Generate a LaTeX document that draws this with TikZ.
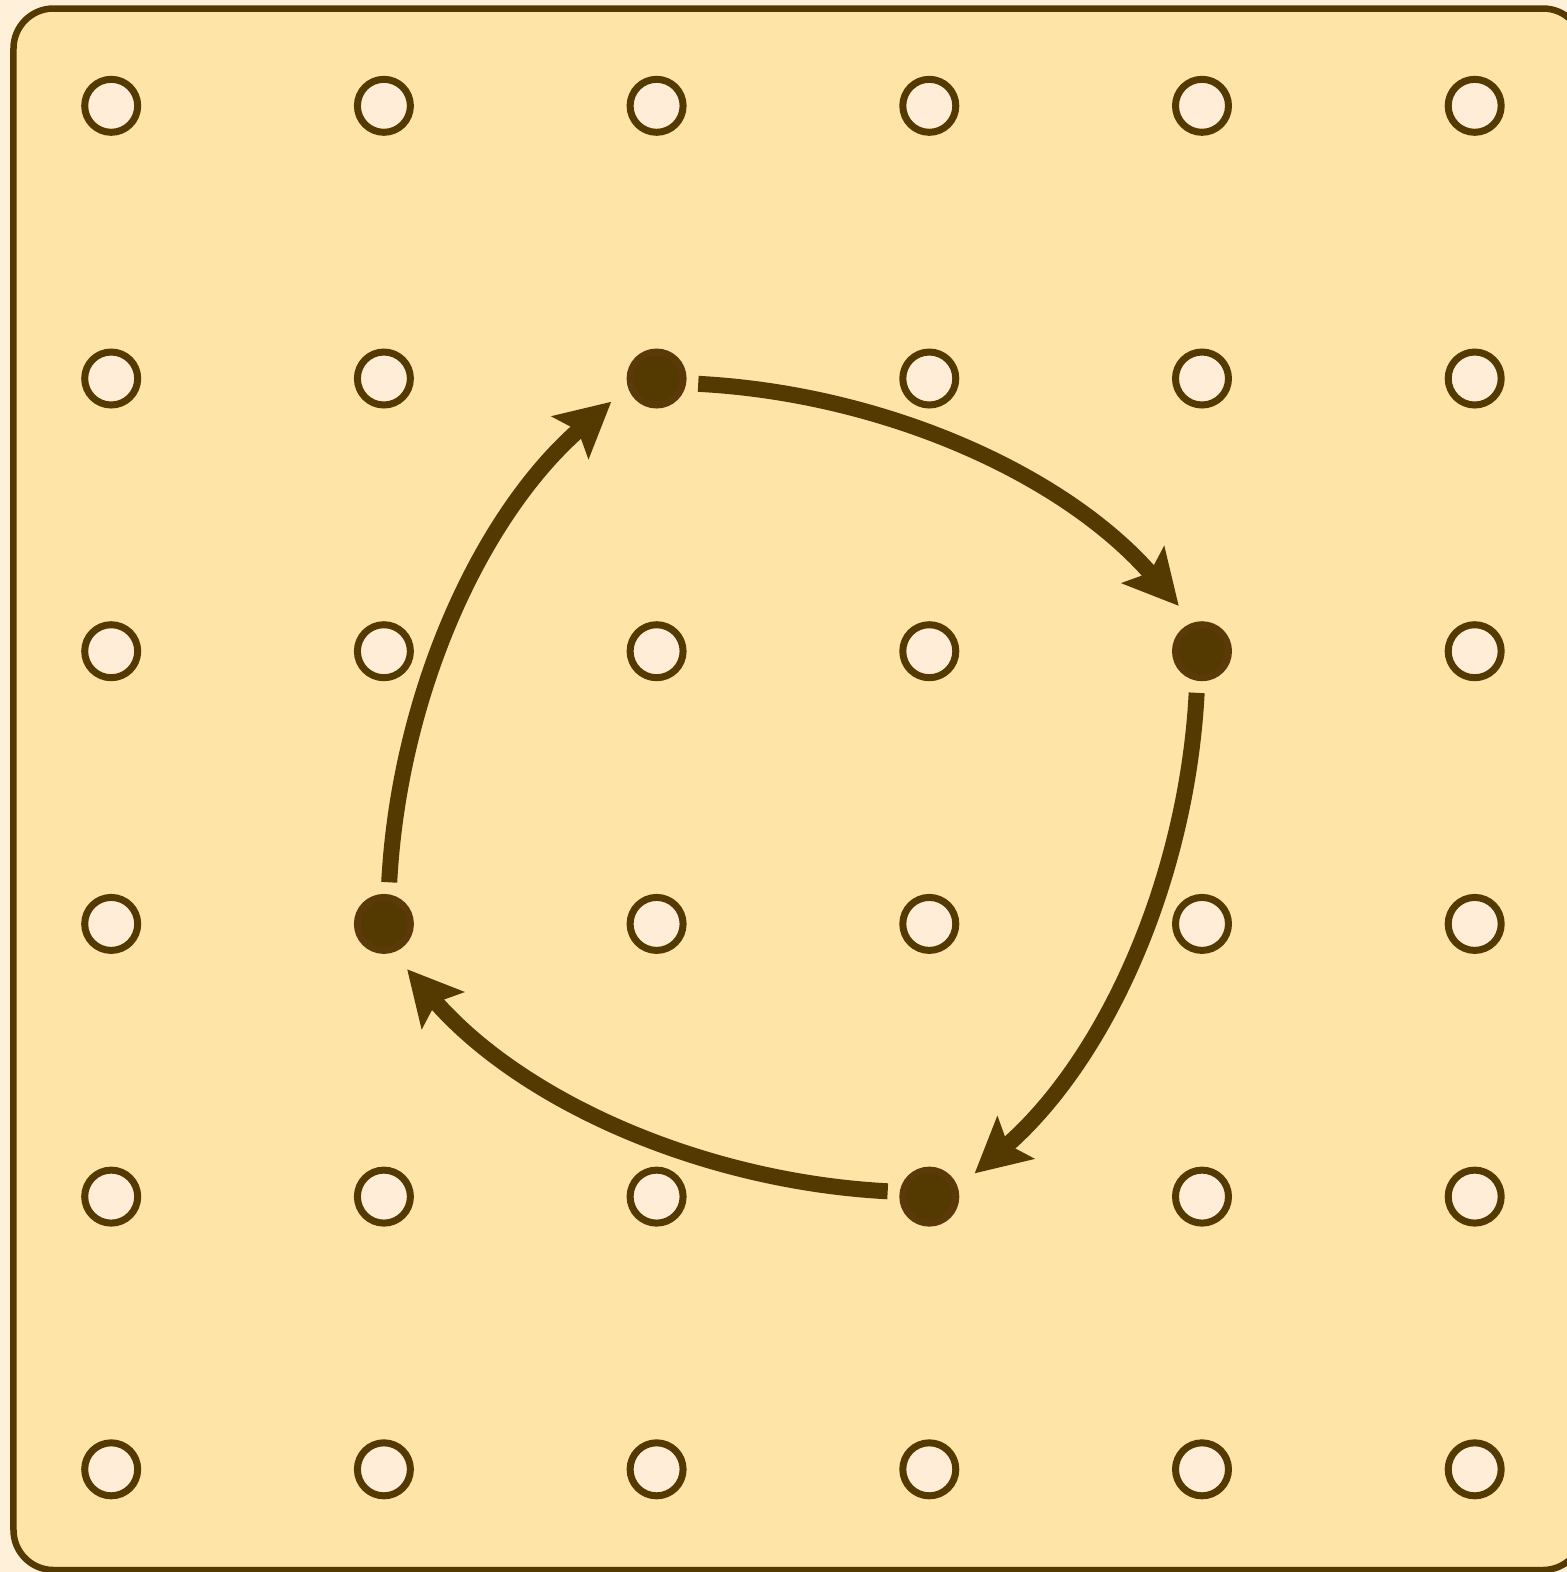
\documentclass[tikz,border=0pt]{standalone}
\usetikzlibrary{positioning,arrows.meta}
\definecolor{pegbrown}{RGB}{84,58,0}
\definecolor{hubrim}{RGB}{92,57,8}
\definecolor{boardfill}{RGB}{255,228,168}
\definecolor{pegfill}{RGB}{255,237,216}
\definecolor{paperfill}{RGB}{255,240,218}
\begin{document}
\begin{tikzpicture}[on grid, node distance=2.727cm]
		\tikzstyle{backdrop} = [fill=paperfill];
		\tikzstyle{board} = [rounded corners=0.4cm, line width=0.065cm, draw=pegbrown, fill=boardfill];
		\tikzstyle{peg} = [circle, minimum size=0.53cm, inner sep=0pt, line width=0.07cm, draw=pegbrown, fill=pegfill];
		\tikzstyle{hub} = [circle, minimum size=0.53cm, inner sep=0pt, line width=0.07cm, draw=hubrim, fill=pegbrown];
		\tikzstyle{link} = [line width=0.16cm, draw=pegbrown, looseness=0.9, shorten <=0.12cm, shorten >=0.22cm, -{Stealth[length=0.54cm, width=0.55cm, inset=0.1cm]}];
		\useasboundingbox (0,0) rectangle (15.67,-15.72);
		\clip (0,0) rectangle (15.67,-15.72);
		\fill[backdrop] (0,0) rectangle (15.67,-15.72);
		\draw[board] (0.135,-0.085) rectangle (15.83,-15.70);
		% row a
		\node (a1) [peg] at (1.112,-1.058) {};
		\node (a2) [peg, right=of a1] {};
		\node (a3) [peg, right=of a2] {};
		\node (a4) [peg, right=of a3] {};
		\node (a5) [peg, right=of a4] {};
		\node (a6) [peg, right=of a5] {};
		% row b
		\node (b1) [peg, below=of a1] {};
		\node (b2) [peg, right=of b1] {};
		\node (b3) [hub, right=of b2] {};
		\node (b4) [peg, right=of b3] {};
		\node (b5) [peg, right=of b4] {};
		\node (b6) [peg, right=of b5] {};
		% row c
		\node (c1) [peg, below=of b1] {};
		\node (c2) [peg, right=of c1] {};
		\node (c3) [peg, right=of c2] {};
		\node (c4) [peg, right=of c3] {};
		\node (c5) [hub, right=of c4] {};
		\node (c6) [peg, right=of c5] {};
		% row d
		\node (d1) [peg, below=of c1] {};
		\node (d2) [hub, right=of d1] {};
		\node (d3) [peg, right=of d2] {};
		\node (d4) [peg, right=of d3] {};
		\node (d5) [peg, right=of d4] {};
		\node (d6) [peg, right=of d5] {};
		% row e
		\node (e1) [peg, below=of d1] {};
		\node (e2) [peg, right=of e1] {};
		\node (e3) [peg, right=of e2] {};
		\node (e4) [hub, right=of e3] {};
		\node (e5) [peg, right=of e4] {};
		\node (e6) [peg, right=of e5] {};
		% row f
		\node (f1) [peg, below=of e1] {};
		\node (f2) [peg, right=of f1] {};
		\node (f3) [peg, right=of f2] {};
		\node (f4) [peg, right=of f3] {};
		\node (f5) [peg, right=of f4] {};
		\node (f6) [peg, right=of f5] {};
		% the cycle
		\draw[link] (b3.-9) to[out=-3, in=131] (c5.107);
		\draw[link] (c5.-99) to[out=-93, in=41] (e4.17);
		\draw[link] (e4.171) to[out=177, in=-49] (d2.-73);
		\draw[link] (d2.81) to[out=87, in=221] (b3.197);
	\end{tikzpicture}
\end{document}
